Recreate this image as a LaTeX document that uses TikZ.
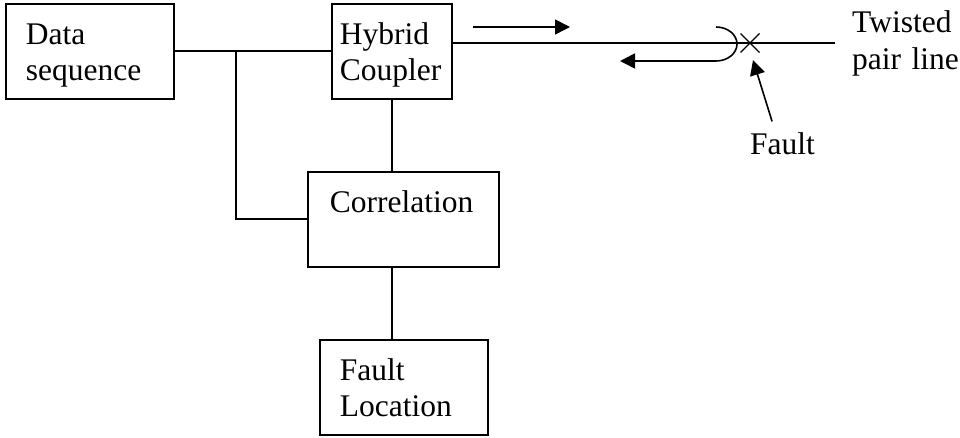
\documentclass[tikz,border=0pt]{standalone}
\usepackage{fontspec}
\setmainfont{Liberation Serif}
\usetikzlibrary{positioning, arrows.meta, calc}

\tikzset{
  block/.style={draw, line width=1.6pt, anchor=north west, align=left, inner ysep=0pt, inner xsep=20pt, text height=40.5pt, text depth=54.5pt, font=\fontsize{31.5}{36.5}\selectfont},
  txt/.style={inner sep=0pt, align=left, font=\fontsize{31.5}{36.5}\selectfont},
  wire/.style={line width=1.6pt},
  arr/.style={line width=1.6pt, -{Triangle[length=15pt, width=15pt]}},
}

\begin{document}
\begin{tikzpicture}[x=1pt, y=-1pt]
            \useasboundingbox (0,0) rectangle (960,438);

            \node [block, text width=128pt] (data) at (5,3) {Data\\sequence};
            \node [block, text width=104pt, inner xsep=8pt] (hybrid) at (331,3) {Hybrid\\Coupler};
            \node [block, text width=147pt, inner xsep=22pt] (correlation) at (307,171) {Correlation};
            \node [block, text width=128pt] (location) at (319,339) {Fault\\Location};

            \coordinate (split) at (data.east -| 236,0);
            \draw [wire] (data.east) -- (hybrid.west);
            \draw [wire] (split) |- (correlation.west);
            \draw [wire] (hybrid.south) -- (hybrid.south |- correlation.north);
            \draw [wire] (correlation.south -| hybrid.south) -- (location.north -| hybrid.south);

            % line and fault
            \coordinate (lineend) at (835,43);
            \coordinate (xmark) at (750,43);
            \draw [wire] (hybrid.east |- lineend) -- (lineend);
            \draw [line width=1.2pt] (xmark) +(-9.5,-9.5) -- +(9.5,9.5) +(-9.5,9.5) -- +(9.5,-9.5);

            \coordinate (sendstart) at (473,27);
            \coordinate (sendend) at (570,27);
            \coordinate (bounce) at (716,27);
            \coordinate (echoend) at (620,61);
            \draw [arr] (sendstart) -- (sendend);
            \draw [arr] (bounce) arc [start angle=90, end angle=-90, x radius=21pt, y radius=17pt] -- (echoend);

            \node [txt, anchor=base west, text width=108pt] (twisted) at (852,33) {Twisted\\pair line};
            \node [txt, anchor=base west] (fault) at (750,155) {Fault};
            \draw [arr] ([xshift=-10.5pt, yshift=11.5pt]fault.north) -- ($(xmark)+(3,17)$);
\end{tikzpicture}
\end{document}
